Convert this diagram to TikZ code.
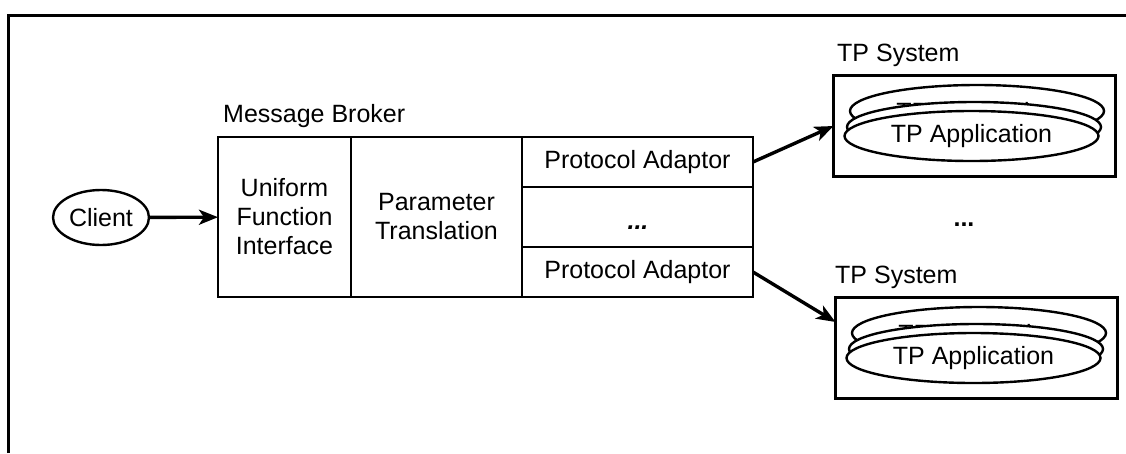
\documentclass[tikz,border=0pt]{standalone}
\usepackage{fontspec}
\setmainfont{Liberation Sans}
\usetikzlibrary{arrows.meta,shapes.geometric}
\begin{document}
\begin{tikzpicture}[x=1pt,y=-1pt,
  every node/.style={font=\fontsize{25}{29}\selectfont},
  box/.style={draw,line width=2.4pt,inner sep=0pt,outer sep=0pt,align=center},
  app/.style={draw,ellipse,line width=2.4pt,fill=white,minimum width=254pt,minimum height=50pt,inner sep=0pt},
  apptext/.style={inner sep=0pt},
  conn/.style={line width=3.4pt,-{Stealth[length=19pt,width=15pt,inset=5pt]}},
  lbl/.style={anchor=base west,inner sep=0pt},
  frameline/.style={line width=3pt}]
\useasboundingbox (0,0) rectangle (1126,453);
% outer frame (partly visible)
\draw[frameline] (8.7,453) -- (8.7,15.8) -- (1126,15.8);

% client
\node[draw,ellipse,line width=2.4pt,minimum width=96pt,minimum height=55pt,inner sep=0pt] (client) at (101,217.5) {Client};

% message broker
\node[lbl] (mblabel) at (223,122) {Message Broker};
\node[box,minimum width=133pt,minimum height=160pt] (ufi) at (284.5,217) {Uniform\\Function\\Interface};
\node[box,minimum width=171pt,minimum height=160pt] (pt) at (436.5,217) {Parameter\\Translation};
\node[box,minimum width=231pt,minimum height=50pt] (pa1) at (637.5,162) {Protocol Adaptor};
\node[box,minimum width=231pt,minimum height=60pt] (dotsbox) at (637.5,217) {};
\node[inner sep=0pt] (dotsA) at (638,228) {\bfseries\itshape ...};
\node[box,minimum width=231pt,minimum height=50pt] (pa2) at (637.5,272) {Protocol Adaptor};

% TP system 1
\node[lbl] (sys1label) at (837,61) {TP System};
\node[box,minimum width=282pt,minimum height=101pt] (sys1) at (974.5,126) {};
\node[app,minimum height=52pt] (app1c) at (977,111) {};
\node[apptext] (app1ct) at (977,114) {TP Application};
\node[app] (app1b) at (974,127) {};
\node[app] (app1a) at (971.5,136) {TP Application};

% TP system 2
\node[lbl] (sys2label) at (835,283) {TP System};
\node[box,minimum width=282pt,minimum height=101pt] (sys2) at (976.5,348) {};
\node[app,minimum height=52pt] (app2c) at (979,333) {};
\node[apptext] (app2ct) at (979,336) {TP Application};
\node[app] (app2b) at (976,349) {};
\node[app] (app2a) at (973.5,358) {TP Application};

% dots between systems
\node[inner sep=0pt] (dotsB) at (964,225) {\bfseries ...};

% connectors
\draw[conn] (client) -- (ufi);
\draw[conn] (pa1.east) -- (sys1.west);
\draw[conn] (pa2.east) -- ([yshift=26pt]sys2.west);
\end{tikzpicture}
\end{document}
